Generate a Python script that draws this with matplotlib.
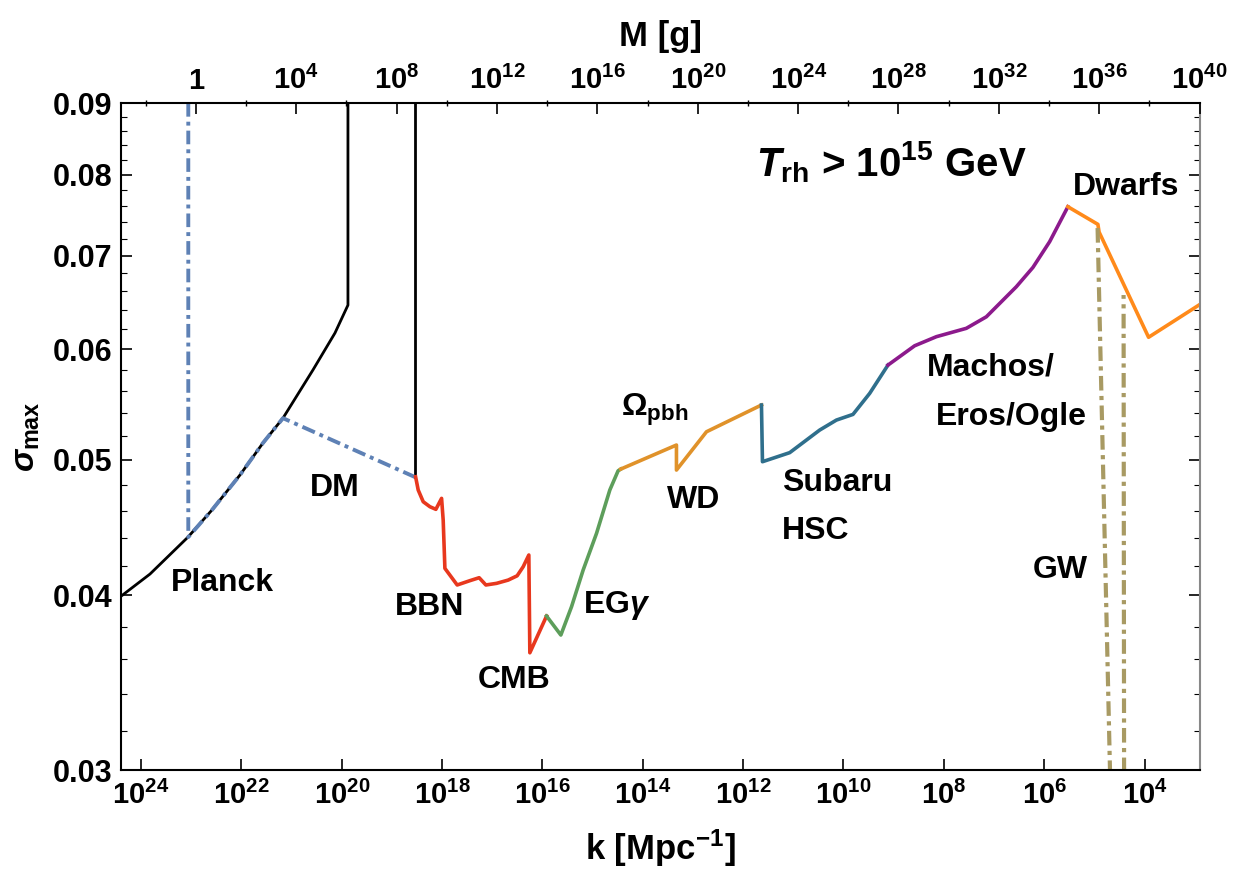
import numpy as np
import matplotlib
matplotlib.use('Agg')
import matplotlib.pyplot as plt
from matplotlib.ticker import FixedLocator, FixedFormatter, NullFormatter

plt.rcParams['font.family'] = ['Liberation Sans', 'DejaVu Sans']
plt.rcParams['font.weight'] = 'bold'
plt.rcParams['axes.labelweight'] = 'bold'
plt.rcParams['mathtext.fontset'] = 'custom'
plt.rcParams['mathtext.rm'] = 'Liberation Sans:bold'
plt.rcParams['mathtext.bf'] = 'Liberation Sans:bold'
plt.rcParams['mathtext.sf'] = 'Liberation Sans:bold'
plt.rcParams['mathtext.it'] = 'Liberation Sans:bold:italic'

# curves: log10 k [Mpc^-1] and sigma_max
planck_logk = [24.42, 23.821, 23.064, 22.586, 22.028, 21.570, 21.171, 20.574, 20.135, 19.876, 19.876]
planck_sig = [0.03989, 0.04143, 0.04403, 0.04604, 0.04877, 0.05141, 0.05356, 0.05798, 0.06162, 0.06452, 0.09]

bbn_edge_logk = [18.542, 18.542]
bbn_edge_sig = [0.09, 0.04861]

dm_logk = [23.058, 23.058, 22.586, 22.028, 21.570, 21.171, 18.542]
dm_sig = [0.09, 0.04403, 0.04604, 0.04877, 0.05141, 0.05356, 0.04861]

bbn_logk = [18.528, 18.476, 18.376, 18.243, 18.124, 18.010, 17.978, 17.944, 17.845, 17.699,
            17.446, 17.261, 17.127, 16.914, 16.683, 16.504, 16.384, 16.271, 16.251, 15.918]
bbn_sig = [0.04863, 0.04758, 0.04667, 0.04629, 0.04609, 0.04693, 0.04528, 0.04182, 0.04136, 0.04069,
           0.04098, 0.04118, 0.04069, 0.04080, 0.04102, 0.04131, 0.04193, 0.04275, 0.03639, 0.03866]

egg_logk = [15.918, 15.633, 15.420, 15.189, 14.922, 14.657, 14.492, 14.438]
egg_sig = [0.03866, 0.03747, 0.03926, 0.04170, 0.04430, 0.04758, 0.04911, 0.04925]

wd_logk = [14.438, 13.329, 13.329, 12.731, 11.635]
wd_sig = [0.04925, 0.05124, 0.04917, 0.05237, 0.05473]

hsc_logk = [11.635, 11.615, 11.072, 10.474, 10.141, 9.811, 9.478, 9.114]
hsc_sig = [0.05473, 0.04985, 0.05060, 0.05252, 0.05339, 0.05389, 0.05579, 0.05845]

macho_logk = [9.114, 8.582, 8.149, 7.552, 7.153, 6.556, 6.225, 5.892, 5.528]
macho_sig = [0.05845, 0.06034, 0.06125, 0.06210, 0.06329, 0.06650, 0.06865, 0.07162, 0.07587]

dwarf_logk = [5.528, 4.930, 4.906, 3.920, 2.918]
dwarf_sig = [0.07587, 0.07370, 0.07277, 0.06119, 0.06452]

gw_logk = [4.936, 4.687, 4.408, 4.418]
gw_sig = [0.07325, 0.0298, 0.0298, 0.0656]

# axis ranges and ticks
logk_min, logk_max = 2.905, 24.404
logM_offset = 45.81          # M[g] = 10^45.81 / k^2
ytick_vals = [0.03, 0.04, 0.05, 0.06, 0.07, 0.08, 0.09]
ytick_labels = ['0.03', '0.04', '0.05', '0.06', '0.07', '0.08', '0.09']
kticks = list(range(24, 3, -2))
Mticks = list(range(0, 41, 4))
Mminor = list(range(-2, 40, 4))

labels = [
    ('Planck', 22.386, 0.04082, 'center'),
    ('DM', 20.135, 0.04774, 'center'),
    ('BBN', 18.243, 0.03924, 'center'),
    ('CMB', 16.570, 0.03479, 'center'),
    (r'EG$\gamma$', 14.518, 0.03937, 'center'),
    (r'$\Omega_{\mathrm{pbh}}$', 13.761, 0.05428, 'center'),
    ('WD', 12.984, 0.04680, 'center'),
    ('Subaru', 11.231, 0.04813, 'left'),
    ('HSC', 11.231, 0.04447, 'left'),
    ('Machos/', 8.343, 0.05826, 'left'),
    ('Eros/Ogle', 8.163, 0.05365, 'left'),
    ('GW', 5.673, 0.04170, 'center'),
    ('Dwarfs', 4.359, 0.07837, 'center'),
]

def K(lst):
    return 10.0 ** np.array(lst, dtype=float)

fig = plt.figure(figsize=(12.5, 8.86), dpi=100)
ax = fig.add_axes([0.0966, 0.1309, 0.863, 0.7528])

dd = (0, (3.5, 1.3, 1.0, 1.3))
ax.plot(K(planck_logk), planck_sig, color='black', lw=2.0)
ax.plot(K(bbn_edge_logk), bbn_edge_sig, color='black', lw=2.0)
ax.plot(K(dm_logk), dm_sig, color='#5E81B5', lw=2.8, ls=dd)
ax.plot(K(bbn_logk), bbn_sig, color='#E8381E', lw=2.6)
ax.plot(K(egg_logk), egg_sig, color='#5D9E5B', lw=2.6)
ax.plot(K(wd_logk), wd_sig, color='#E0922A', lw=2.6)
ax.plot(K(hsc_logk), hsc_sig, color='#2F6F8C', lw=2.6)
ax.plot(K(macho_logk), macho_sig, color='#8C1A8C', lw=2.6)
ax.plot(K(dwarf_logk), dwarf_sig, color='#FF8A1A', lw=2.6)
ax.plot(K(gw_logk), gw_sig, color='#A89A63', lw=3.0, ls=dd)

ax.set_xscale('log')
ax.set_yscale('log')
ax.set_xlim(10 ** logk_max, 10 ** logk_min)
ax.set_ylim(0.03, 0.09)

ax.xaxis.set_major_locator(FixedLocator(K(kticks)))
ax.xaxis.set_major_formatter(FixedFormatter([r'$10^{%d}$' % p for p in kticks]))
ax.xaxis.set_minor_locator(FixedLocator([]))
ax.yaxis.set_major_locator(FixedLocator(ytick_vals))
ax.yaxis.set_major_formatter(FixedFormatter(ytick_labels))
ax.yaxis.set_minor_locator(FixedLocator(np.arange(0.030, 0.0901, 0.002)))
ax.yaxis.set_minor_formatter(NullFormatter())
ax.tick_params(axis='x', which='major', direction='in', length=8, width=1.2,
               labelsize=21, pad=8, top=False)
ax.tick_params(axis='y', which='major', direction='in', length=8, width=1.2,
               labelsize=22, right=True, pad=6)
ax.tick_params(axis='y', which='minor', direction='in', length=4, width=0.8, right=True)
for s in ['left', 'bottom', 'top']:
    ax.spines[s].set_linewidth(1.5)
ax.spines['right'].set_color('#888888')
ax.spines['right'].set_linewidth(1.5)

ax.set_xlabel(r'k [Mpc$^{-1}$]', fontsize=25, labelpad=12)
ax.set_ylabel(r'$\sigma_{\mathrm{max}}$', fontsize=24, labelpad=8)

# top mass axis
top = ax.twiny()
top.set_xscale('log')
top.set_xlim(10 ** (logM_offset - 2 * logk_max), 10 ** (logM_offset - 2 * logk_min))
top.xaxis.set_major_locator(FixedLocator(K(Mticks)))
top.xaxis.set_major_formatter(FixedFormatter(['1'] + [r'$10^{%d}$' % p for p in Mticks[1:]]))
top.xaxis.set_minor_locator(FixedLocator(K(Mminor)))
top.xaxis.set_minor_formatter(NullFormatter())
top.tick_params(axis='x', which='major', direction='in', length=8, width=1.2, labelsize=21, pad=6)
top.tick_params(axis='x', which='minor', direction='inout', length=5, width=1.0)
top.set_xlabel('M [g]', fontsize=25, labelpad=14)
for s in top.spines.values():
    s.set_visible(False)

for txt, lk, sg, ha in labels:
    ax.text(10 ** lk, sg, txt, fontsize=23, ha=ha, va='center')
ax.text(10 ** 9.04, 0.08166, r'$\mathit{T}_{\mathrm{rh}}$ > $10^{15}$ GeV', fontsize=29,
        ha='center', va='center')

fig.savefig('out.png', dpi=100)
